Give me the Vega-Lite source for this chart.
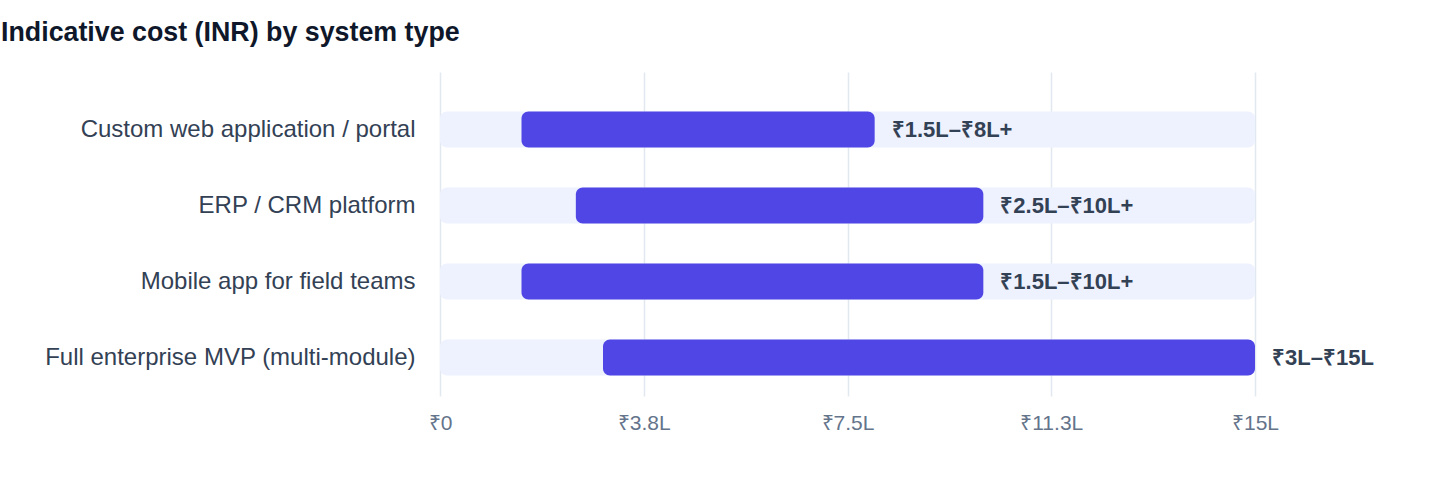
{
  "$schema": "https://vega.github.io/schema/vega-lite/v6.json",
  "autosize": {"type": "none"},
  "padding": {"left": 440, "top": 72, "right": 185, "bottom": 88},
  "width": 815,
  "height": 324,
  "background": "#ffffff",
  "config": {
    "font": "Liberation Sans",
    "view": {"stroke": null}
  },
  "title": {
    "text": "Indicative cost (INR) by system type",
    "anchor": "start",
    "frame": "group",
    "dx": -439,
    "offset": 25,
    "fontSize": 26.8,
    "fontWeight": "bold",
    "color": "#0F172A",
    "font": "Liberation Sans"
  },
  "data": {
    "values": [
      {"system": "Custom web application / portal", "low": 1.5, "high": 8, "label": "₹1.5L–₹8L+"},
      {"system": "ERP / CRM platform", "low": 2.5, "high": 10, "label": "₹2.5L–₹10L+"},
      {"system": "Mobile app for field teams", "low": 1.5, "high": 10, "label": "₹1.5L–₹10L+"},
      {"system": "Full enterprise MVP (multi-module)", "low": 3, "high": 15, "label": "₹3L–₹15L"}
    ]
  },
  "encoding": {
    "y": {
      "field": "system",
      "type": "nominal",
      "sort": null,
      "title": null,
      "scale": {"paddingInner": 0.526, "paddingOuter": 0.3945, "align": 0.66},
      "axis": {
        "ticks": false,
        "domain": false,
        "labelPadding": 25,
        "labelFontSize": 24,
        "labelColor": "#334155",
        "labelFont": "Liberation Sans",
        "labelLimit": 500
      }
    }
  },
  "layer": [
    {
      "mark": {"type": "bar", "color": "#EEF2FF", "cornerRadius": 7},
      "encoding": {
        "x": {
          "datum": 0,
          "type": "quantitative",
          "scale": {"domain": [0, 15], "nice": false},
          "title": null,
          "axis": {
            "values": [0, 3.75, 7.5, 11.25, 15],
            "labelExpr": "datum.value == 0 ? '₹0' : '₹' + format(datum.value, '.1~f') + 'L'",
            "ticks": false,
            "domain": false,
            "grid": true,
            "gridColor": "#E2E8F0",
            "gridWidth": 1.5,
            "labelFlush": false,
            "labelPadding": 16,
            "labelFontSize": 21,
            "labelColor": "#64748B",
            "labelFont": "Liberation Sans"
          }
        },
        "x2": {"datum": 15}
      }
    },
    {
      "mark": {"type": "bar", "color": "#4F46E5", "cornerRadius": 7},
      "encoding": {
        "x": {"field": "low", "type": "quantitative", "title": null},
        "x2": {"field": "high"}
      }
    },
    {
      "mark": {"type": "text", "align": "left", "baseline": "middle", "dx": 17, "fontSize": 22, "fontWeight": "bold", "color": "#334155", "font": "Liberation Sans"},
      "encoding": {
        "x": {"field": "high", "type": "quantitative", "title": null},
        "text": {"field": "label"}
      }
    }
  ]
}
